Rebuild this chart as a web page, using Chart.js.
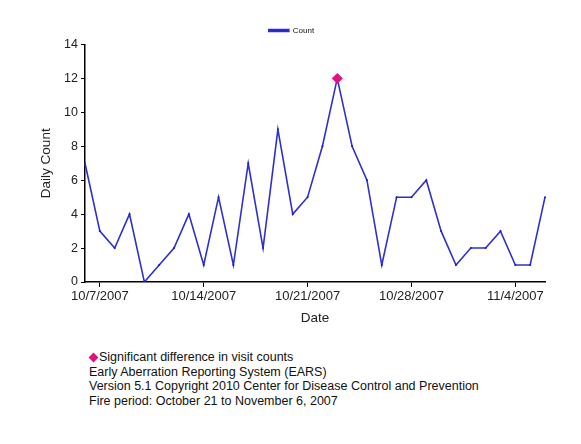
<!DOCTYPE html>
<html>
<head>
<meta charset="utf-8">
<script src="https://cdn.jsdelivr.net/npm/chart.js@4"></script>
<style>
    body { margin: 0; background: #fff; font-family: "Liberation Sans", Arial, sans-serif; }
    #wrap { position: relative; width: 581px; height: 444px; }
    #chartBox { position: absolute; left: 0; top: 0; width: 581px; height: 326px; }
    #notes { position: absolute; left: 89px; top: 350px; font-size: 12.5px; line-height: 14.5px; color: #111; }
    .diamond { display: inline-block; width: 7px; height: 7px; background: #e0137c; transform: rotate(45deg); margin: 0 3px 0 0; position: relative; left: 1px; top: 0px; }
</style>
</head>
<body>
<div id="wrap">
    <div id="chartBox"><canvas id="earsChart"></canvas></div>
    <div id="notes">
        <div><span class="diamond"></span>Significant difference in visit counts</div>
        <div>Early Aberration Reporting System (EARS)</div>
        <div>Version 5.1 Copyright 2010 Center for Disease Control and Prevention</div>
        <div>Fire period: October 21 to November 6, 2007</div>
    </div>
</div>
<script>
// Daily dates, 10/6/2007 .. 11/6/2007
const dates = [
    '10/6/2007', '10/7/2007', '10/8/2007', '10/9/2007', '10/10/2007', '10/11/2007', '10/12/2007',
    '10/13/2007', '10/14/2007', '10/15/2007', '10/16/2007', '10/17/2007', '10/18/2007', '10/19/2007',
    '10/20/2007', '10/21/2007', '10/22/2007', '10/23/2007', '10/24/2007', '10/25/2007', '10/26/2007',
    '10/27/2007', '10/28/2007', '10/29/2007', '10/30/2007', '10/31/2007', '11/1/2007', '11/2/2007',
    '11/3/2007', '11/4/2007', '11/5/2007', '11/6/2007'
];

// Daily count
const counts = [
    7, 3, 2, 4, 0, 1, 2,
    4, 1, 5, 1, 7, 2, 9,
    4, 5, 8, 12, 8, 6, 1,
    5, 5, 6, 3, 1, 2, 2,
    3, 1, 1, 5
];

// Days flagged as significant
const significantDates = ['10/23/2007'];

// Dates that get a label on the x axis
const xTickLabels = ['10/7/2007', '10/14/2007', '10/21/2007', '10/28/2007', '11/4/2007'];

const significantValues = dates.map((d, i) => significantDates.includes(d) ? counts[i] : null);

const textColor = '#222';
const fontFamily = '"Liberation Sans", Arial, sans-serif';

window.addEventListener('load', () => {
    const ctx = document.getElementById('earsChart').getContext('2d');

    new Chart(ctx, {
        type: 'line',
        data: {
            labels: dates,
            datasets: [
                {
                    label: 'Count',
                    data: counts,
                    borderColor: '#2f2fd0',
                    backgroundColor: '#1a1ac8',
                    borderWidth: 1.6,
                    pointRadius: 1,
                    pointBorderWidth: 0,
                    tension: 0,
                    order: 2
                },
                {
                    label: 'Significant',
                    data: significantValues,
                    showLine: false,
                    pointStyle: 'rectRot',
                    pointRadius: 5,
                    pointBackgroundColor: '#e0137c',
                    pointBorderColor: '#e0137c',
                    order: 1
                }
            ]
        },
        options: {
            responsive: true,
            maintainAspectRatio: false,
            animation: false,
            layout: {
                padding: { left: 38, right: 36, top: 15, bottom: 0 }
            },
            plugins: {
                legend: {
                    position: 'top',
                    labels: {
                        filter: item => item.text === 'Count',
                        boxWidth: 20,
                        boxHeight: 2,
                        color: '#111',
                        font: { family: fontFamily, size: 8 },
                        padding: 11.5
                    }
                },
                tooltip: { enabled: false }
            },
            scales: {
                x: {
                    type: 'category',
                    offset: false,
                    afterFit: scale => { scale.height = 44; },
                    border: { display: true, color: '#000', width: 1.5 },
                    grid: {
                        drawOnChartArea: false,
                        drawTicks: true,
                        tickLength: 5,
                        tickColor: c => xTickLabels.includes(dates[c.index]) ? '#000' : 'rgba(0,0,0,0)'
                    },
                    ticks: {
                        autoSkip: false,
                        maxRotation: 0,
                        minRotation: 0,
                        padding: 2,
                        color: textColor,
                        font: { family: fontFamily, size: 13 },
                        callback: function(value, index) {
                            return xTickLabels.includes(dates[index]) ? dates[index] : '';
                        }
                    },
                    title: {
                        display: true,
                        text: 'Date',
                        color: textColor,
                        font: { family: fontFamily, size: 13.5 },
                        padding: { top: 2, bottom: 0 }
                    }
                },
                y: {
                    min: 0,
                    max: 14,
                    afterFit: scale => { scale.width = 47; },
                    border: { display: true, color: '#000', width: 1.5 },
                    grid: {
                        drawOnChartArea: false,
                        drawTicks: true,
                        tickLength: 4,
                        tickColor: '#000'
                    },
                    ticks: {
                        stepSize: 2,
                        padding: 3,
                        color: textColor,
                        font: { family: fontFamily, size: 12.5 }
                    },
                    title: {
                        display: true,
                        text: 'Daily Count',
                        color: textColor,
                        font: { family: fontFamily, size: 13.5 },
                        padding: { top: 0, bottom: 0 }
                    }
                }
            }
        }
    });
});
</script>
</body>
</html>
